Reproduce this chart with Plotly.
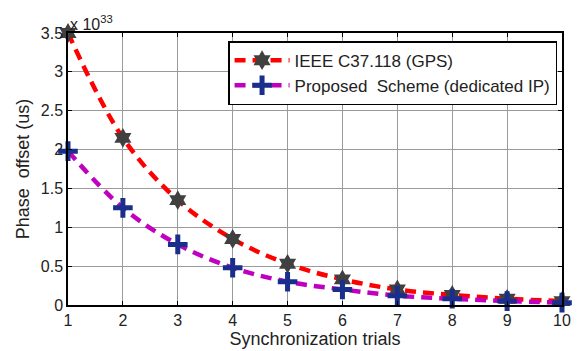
import plotly.graph_objects as go

trials = [1, 2, 3, 4, 5, 6, 7, 8, 9, 10]
ieee_gps = [3.5, 2.15, 1.35, 0.85, 0.53, 0.33, 0.2, 0.13, 0.08, 0.05]
proposed = [1.98, 1.25, 0.78, 0.48, 0.30, 0.20, 0.12, 0.08, 0.05, 0.03]
y_ticks = [0, 0.5, 1, 1.5, 2, 2.5, 3, 3.5]
y_tick_text = ["0", "0.5", "1", "1.5", "2", "2.5", "3", "3.5"]

FONT = "Liberation Sans"

fig = go.Figure()
fig.add_trace(go.Scatter(
    x=trials, y=ieee_gps, name="IEEE C37.118 (GPS)",
    mode="lines+markers",
    line=dict(color="#ff0000", width=4.5, dash="11px,7px", shape="spline"),
    marker=dict(symbol="hexagram", size=15, color="#404040",
                line=dict(color="#404040", width=0)),
    cliponaxis=False,
))
fig.add_trace(go.Scatter(
    x=trials, y=proposed, name="Proposed  Scheme (dedicated IP)",
    mode="lines+markers",
    line=dict(color="#c000c0", width=4.5, dash="11px,7px", shape="spline"),
    marker=dict(symbol="cross-thin", size=14, color="#1a2f8c",
                line=dict(color="#1a2f8c", width=5)),
    cliponaxis=False,
))

axis_common = dict(
    showline=True, linecolor="black", linewidth=1.5, mirror="ticks",
    ticks="inside", ticklen=4, tickcolor="black",
    showgrid=True, gridcolor="#9a9a9a", gridwidth=1,
    zeroline=False, automargin=False,
    tickfont=dict(family=FONT, size=16, color="#222222"),
)

fig.update_xaxes(range=[1, 10], tickvals=trials, **axis_common,
                 title=dict(text="Synchronization trials",
                            font=dict(family=FONT, size=18, color="#222222"),
                            standoff=4))
fig.update_yaxes(range=[0, 3.5], tickvals=y_ticks, ticktext=y_tick_text, **axis_common,
                 title=dict(text="Phase  offset (us)",
                            font=dict(family=FONT, size=18, color="#222222"),
                            standoff=6))

fig.add_annotation(x=0, y=1, xref="paper", yref="paper", xanchor="left", yanchor="bottom",
                   text="x 10<sup>33</sup>", showarrow=False,
                   font=dict(family=FONT, size=16, color="#222222"), yshift=-2)

fig.update_layout(
    width=574, height=343,
    margin=dict(l=60, r=20, t=25, b=46, autoexpand=False),
    plot_bgcolor="white", paper_bgcolor="white",
    legend=dict(x=0.99, y=0.97, xanchor="right", yanchor="top",
                bgcolor="white", bordercolor="black", borderwidth=1.5,
                font=dict(family=FONT, size=17, color="#222222"),
                tracegroupgap=0, itemwidth=55),
    showlegend=True,
)

fig.write_html("out.html")
